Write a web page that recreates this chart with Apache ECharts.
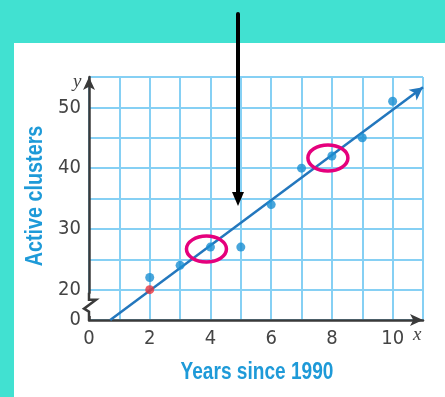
<!DOCTYPE html>
<html>
<head>
<meta charset="utf-8">
<script src="https://cdn.jsdelivr.net/npm/echarts@6/dist/echarts.min.js"></script>
<style>
  html, body { margin: 0; padding: 0; background: #41e1d1; }
  #chart { width: 445px; height: 397px; }
</style>
</head>
<body>
<div id="chart"></div>
<script>
// data
const years = [2, 3, 4, 5, 6, 7, 8, 9, 10]
const clusters = [22, 24, 27, 27, 34, 40, 42, 45, 51]
const highlightPoint = [2, 20]
const circledPoints = [[4, 27], [8, 42]]
const fitStart = [0.7, 15]
const fitEnd = [11, 53.3]

// y axis is broken: the bottom cell stands for 0..20
const yTickValues = [15, 20, 30, 40, 50]
const yTickText = ['0', '20', '30', '40', '50']
const xTickValues = [0, 2, 4, 6, 8, 10]

const gridBlue = '#86d0f4'
const axisDark = '#3a3a3a'
const labelBlue = '#1e9ad8'
const dotBlue = '#1a8ed2'
const lineBlue = '#2377bd'
const tickFont = '"DejaVu Sans Condensed", "Liberation Sans", sans-serif'

const chart = echarts.init(document.getElementById('chart'))

const option = {
  backgroundColor: 'transparent',
  animation: false,
  grid: { left: 89, right: 22, top: 77, bottom: 77 },
  xAxis: {
    type: 'value',
    min: 0,
    max: 11,
    interval: 1,
    axisLine: {
      show: true,
      symbol: ['none', 'arrow'],
      symbolSize: [9, 13],
      lineStyle: { color: axisDark, width: 2.5 }
    },
    axisTick: { show: false },
    axisLabel: {
      margin: 9,
      color: '#444',
      fontSize: 20,
      fontFamily: tickFont,
      formatter: v => xTickValues.includes(v) ? String(v) : ''
    },
    splitLine: { show: true, lineStyle: { color: gridBlue, width: 2 } }
  },
  yAxis: {
    type: 'value',
    min: 15,
    max: 55,
    interval: 5,
    axisLine: {
      show: true,
      symbol: ['none', 'arrow'],
      symbolSize: [9, 13],
      lineStyle: { color: axisDark, width: 2.5 }
    },
    axisTick: { show: false },
    axisLabel: {
      margin: 8,
      color: '#444',
      fontSize: 20,
      fontFamily: tickFont,
      formatter: v => {
        const i = yTickValues.indexOf(v)
        return i >= 0 ? yTickText[i] : ''
      }
    },
    splitLine: { show: true, lineStyle: { color: gridBlue, width: 2 } }
  },
  series: [
    {
      name: 'fit',
      type: 'line',
      data: [],
      z: 2,
      markLine: {
        silent: true,
        z: 2,
        symbol: ['none', 'arrow'],
        symbolSize: [10, 13],
        label: { show: false },
        lineStyle: { color: lineBlue, width: 2.5, type: 'solid' },
        data: [[{ coord: fitStart }, { coord: fitEnd }]]
      }
    },
    {
      name: 'clusters',
      type: 'scatter',
      symbolSize: 9,
      itemStyle: { color: dotBlue },
      data: years.map((x, i) => [x, clusters[i]]),
      z: 6
    },
    {
      name: 'highlight',
      type: 'scatter',
      symbolSize: 9,
      itemStyle: { color: '#e8333d' },
      data: [highlightPoint],
      z: 7
    }
  ]
}

chart.setOption(option)

// overlays: axis break, hand-drawn circles, the black pointer arrow, labels
const px = p => chart.convertToPixel({ gridIndex: 0 }, p)
const origin = px([0, 15])
const y20 = px([0, 20])
const ax = origin[0]
const titleFont = 'bold 23px "Liberation Sans", sans-serif'

const graphics = [
  // white panel
  { type: 'rect', z: -10, shape: { x: 14, y: 43, width: 445, height: 400 }, style: { fill: '#fff' } },
  // break in the y axis
  { type: 'rect', z: 100, shape: { x: ax - 3, y: y20[1] + 4, width: 6, height: origin[1] - y20[1] - 8 }, style: { fill: '#fff' } },
  {
    type: 'polyline', z: 101,
    shape: { points: [[ax, y20[1] + 3], [ax, y20[1] + 10], [ax + 7, y20[1] + 10], [ax - 5, y20[1] + 19], [ax, y20[1] + 22], [ax, origin[1]]] },
    style: { stroke: axisDark, lineWidth: 2.5, fill: 'none' }
  },
  // axis letters
  { type: 'text', z: 101, x: 73, y: 72, style: { text: 'y', font: 'italic 19px "Liberation Serif", serif', fill: '#444' } },
  { type: 'text', z: 101, x: 413, y: 325, style: { text: 'x', font: 'italic 19px "Liberation Serif", serif', fill: '#444' } },
  // axis titles (condensed look)
  {
    type: 'text', z: 101, x: 257, y: 373, scaleX: 0.83,
    style: { text: 'Years since 1990', font: titleFont, fill: labelBlue, align: 'center', verticalAlign: 'middle' }
  },
  {
    type: 'text', z: 101, x: 36, y: 196, rotation: Math.PI / 2, scaleX: 0.86,
    style: { text: 'Active clusters', font: titleFont, fill: labelBlue, align: 'center', verticalAlign: 'middle' }
  },
  // black pointer arrow
  { type: 'line', z: 110, shape: { x1: 238, y1: 14, x2: 238, y2: 195 }, style: { stroke: '#000', lineWidth: 4, lineCap: 'round' } },
  { type: 'polygon', z: 110, shape: { points: [[232, 192], [244, 192], [238, 206]] }, style: { fill: '#000' } }
]

circledPoints.forEach(p => {
  const c = px(p)
  graphics.push({
    type: 'ellipse', z: 105,
    shape: { cx: c[0] - 4, cy: c[1] + 2, rx: 20, ry: 13 },
    style: { stroke: '#e5007d', lineWidth: 3.5, fill: 'none' }
  })
})

chart.setOption({ graphic: graphics })
</script>
</body>
</html>
